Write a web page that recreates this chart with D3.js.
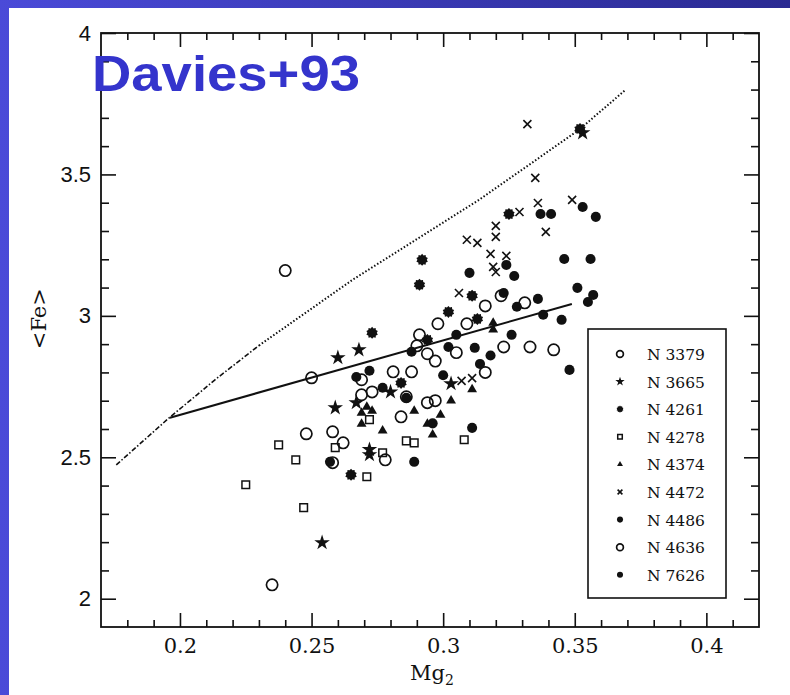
<!DOCTYPE html>
<html>
<head>
<meta charset="utf-8">
<script src="https://cdn.jsdelivr.net/npm/d3@7"></script>
<style>
  html, body { margin: 0; padding: 0; }
  body { width: 790px; height: 695px; overflow: hidden; }
  svg { display: block; }
</style>
</head>
<body>
<svg id="chart" width="790" height="695"></svg>
<script>
// ---- data (Mg2, <Fe>) per galaxy ----
const n3379 = [[0.250,2.781],[0.281,2.802],[0.288,2.802],[0.269,2.774],[0.273,2.731],[0.269,2.721],[0.286,2.714],[0.294,2.693],[0.284,2.643],[0.248,2.583],[0.258,2.590],[0.262,2.551],[0.278,2.491],[0.258,2.481],[0.235,2.049]];
const n3665 = [[0.268,2.880],[0.260,2.852],[0.280,2.731],[0.267,2.693],[0.259,2.675],[0.272,2.527],[0.272,2.509],[0.254,2.198],[0.353,3.647],[0.303,2.760]];
const n4261 = [[0.291,3.110],[0.273,2.940],[0.284,2.763],[0.265,2.438],[0.352,3.661],[0.325,3.360],[0.292,3.198],[0.311,3.071],[0.302,3.014],[0.313,2.989],[0.294,2.915]];
const n4278 = [[0.272,2.633],[0.2375,2.544],[0.259,2.534],[0.286,2.558],[0.289,2.551],[0.277,2.516],[0.244,2.491],[0.271,2.431],[0.225,2.403],[0.247,2.322],[0.308,2.562]];
const n4374 = [[0.271,2.678],[0.273,2.664],[0.269,2.657],[0.289,2.664],[0.269,2.618],[0.294,2.618],[0.277,2.594],[0.319,2.975],[0.319,2.951],[0.303,2.700],[0.299,2.650],[0.311,2.740],[0.296,2.580]];
const n4472 = [[0.332,3.678],[0.335,3.488],[0.336,3.399],[0.349,3.410],[0.329,3.367],[0.320,3.318],[0.320,3.279],[0.339,3.297],[0.309,3.269],[0.313,3.258],[0.318,3.219],[0.324,3.212],[0.319,3.173],[0.320,3.155],[0.306,3.081],[0.307,2.770],[0.311,2.780]];
const n4486 = [[0.353,3.385],[0.358,3.350],[0.337,3.360],[0.341,3.360],[0.346,3.201],[0.356,3.201],[0.351,3.099],[0.357,3.074],[0.355,3.049],[0.336,3.060],[0.338,3.004],[0.345,2.986],[0.348,2.809],[0.318,2.860]];
const n4636 = [[0.240,3.160],[0.291,2.933],[0.290,2.894],[0.294,2.866],[0.322,3.071],[0.331,3.046],[0.316,3.035],[0.298,2.972],[0.309,2.972],[0.323,2.890],[0.333,2.890],[0.342,2.880],[0.305,2.870],[0.297,2.840],[0.316,2.800],[0.297,2.700]];
const n7626 = [[0.288,2.873],[0.272,2.806],[0.267,2.784],[0.277,2.746],[0.286,2.710],[0.257,2.484],[0.289,2.484],[0.324,3.180],[0.327,3.141],[0.310,3.152],[0.323,3.081],[0.328,3.032],[0.326,2.933],[0.305,2.933],[0.312,2.887],[0.302,2.890],[0.311,2.604],[0.300,2.790],[0.314,2.830],[0.296,2.620]];

// model tracks
const upperTrackA = [[0.1758,2.473],[0.1951,2.633],[0.2133,2.774],[0.2300,2.895]];
const upperTrackB = [[0.2300,2.895],[0.2655,3.127],[0.3136,3.410],[0.3515,3.657],[0.3693,3.799]];
const lowerTrack = [[0.1962,2.640],[0.3489,3.042]];

const legendNames = ["N 3379","N 3665","N 4261","N 4278","N 4374","N 4472","N 4486","N 4636","N 7626"];
const legendTypes = ["ring","star","burst","square","tri","times","dot","ring","dot"];
const seriesList = [n3379,n3665,n4261,n4278,n4374,n4472,n4486,n4636,n7626];

const xTicksMajor = [0.2,0.25,0.3,0.35,0.4];
const yTicksMajor = [2,2.5,3,3.5,4];

// ---- layout ----
const svg = d3.select("#chart");
const W = 790, H = 695;

const defs = svg.append("defs");
const grad = defs.append("linearGradient").attr("id","bg").attr("x1","0").attr("x2","1").attr("y1","0").attr("y2","0");
grad.append("stop").attr("offset","0").attr("stop-color","#4a4ad8");
grad.append("stop").attr("offset","1").attr("stop-color","#2a2a92");
svg.append("rect").attr("width",W).attr("height",H).attr("fill","url(#bg)");
svg.append("rect").attr("x",9).attr("y",8).attr("width",W-9).attr("height",H-8).attr("fill","#fff");

const x = d3.scaleLinear().domain([0.17,0.42]).range([101,759]);
const y = d3.scaleLinear().domain([1.9,4.0]).range([627,33]);

const serif = "'DejaVu Serif', 'Liberation Serif', serif";
const sans = "'Liberation Sans', Arial, sans-serif";
const r2 = v => Math.round(v*100)/100;
const xMinor = d3.range(18,42).map(v => v/100).filter(v => !xTicksMajor.includes(r2(v)));
const yMinor = d3.range(20,40).map(v => v/10).filter(v => !yTicksMajor.includes(v));

function styleAxis(g) {
  g.select(".domain").remove();
  g.selectAll("line").attr("stroke","#111").attr("stroke-width",1.6);
  g.selectAll("text").attr("font-family",serif).attr("font-size",21).attr("fill","#111");
}

// bottom
svg.append("g").attr("transform",`translate(0,${y(1.9)})`)
  .call(d3.axisBottom(x).tickValues(xTicksMajor).tickSize(-14).tickSizeOuter(0).tickPadding(11).tickFormat(d => String(d)))
  .call(styleAxis);
svg.append("g").attr("transform",`translate(0,${y(1.9)})`)
  .call(d3.axisBottom(x).tickValues(xMinor).tickSize(-7).tickSizeOuter(0).tickFormat(""))
  .call(styleAxis);
// top
svg.append("g").attr("transform",`translate(0,${y(4)})`)
  .call(d3.axisTop(x).tickValues(xTicksMajor).tickSize(-14).tickSizeOuter(0).tickFormat(""))
  .call(styleAxis);
svg.append("g").attr("transform",`translate(0,${y(4)})`)
  .call(d3.axisTop(x).tickValues(xMinor).tickSize(-7).tickSizeOuter(0).tickFormat(""))
  .call(styleAxis);
// left
svg.append("g").attr("transform",`translate(${x(0.17)},0)`)
  .call(d3.axisLeft(y).tickValues(yTicksMajor).tickSize(-15).tickSizeOuter(0).tickPadding(10).tickFormat(d => String(d)))
  .call(styleAxis)
  .call(g => g.selectAll("text").attr("font-family",sans).attr("font-size",22));
svg.append("g").attr("transform",`translate(${x(0.17)},0)`)
  .call(d3.axisLeft(y).tickValues(yMinor).tickSize(-8).tickSizeOuter(0).tickFormat(""))
  .call(styleAxis);
// right
svg.append("g").attr("transform",`translate(${x(0.42)},0)`)
  .call(d3.axisRight(y).tickValues(yTicksMajor).tickSize(-15).tickSizeOuter(0).tickFormat(""))
  .call(styleAxis);
svg.append("g").attr("transform",`translate(${x(0.42)},0)`)
  .call(d3.axisRight(y).tickValues(yMinor).tickSize(-8).tickSizeOuter(0).tickFormat(""))
  .call(styleAxis);

// frame
svg.append("rect")
  .attr("x",x(0.17)).attr("y",y(4))
  .attr("width",x(0.42)-x(0.17)).attr("height",y(1.9)-y(4))
  .attr("fill","none").attr("stroke","#111").attr("stroke-width",1.8);

// axis titles
const xt = svg.append("text").attr("x",432).attr("y",680)
  .attr("text-anchor","middle").attr("font-family",serif).attr("font-size",21).attr("fill","#111");
xt.append("tspan").text("Mg");
xt.append("tspan").attr("font-size",14).attr("dy",5).text("2");

svg.append("text").attr("transform",`translate(46,${y(2.99)}) rotate(-90)`)
  .attr("text-anchor","middle").attr("font-family",serif).attr("font-size",21).attr("fill","#111")
  .text("<Fe>");

// model tracks
const line = d3.line().x(d => x(d[0])).y(d => y(d[1]));
svg.append("path").datum(upperTrackA).attr("d",line)
  .attr("fill","none").attr("stroke","#111").attr("stroke-width",1.6).attr("stroke-dasharray","5,2,1.5,2");
svg.append("path").datum(upperTrackB).attr("d",line)
  .attr("fill","none").attr("stroke","#111").attr("stroke-width",2).attr("stroke-dasharray","1.5,2");
svg.append("path").datum(lowerTrack).attr("d",line)
  .attr("fill","none").attr("stroke","#111").attr("stroke-width",2);

// ---- markers ----
function burstPath(r) {
  const pts = [];
  for (let i = 0; i < 20; i++) {
    const a = Math.PI * i / 10;
    const rr = i % 2 ? r * 0.78 : r;
    pts.push([Math.sin(a) * rr, -Math.cos(a) * rr]);
  }
  return "M" + pts.map(p => p.join(",")).join("L") + "Z";
}
function timesPath(r) {
  return `M${-r},${-r}L${r},${r}M${-r},${r}L${r},${-r}`;
}
function marker(sel, type, k) {
  if (type === "ring") {
    sel.append("path").attr("d", d3.symbol(d3.symbolCircle, 100 * k * k)())
      .attr("fill","#fff").attr("fill-opacity",0).attr("stroke","#111").attr("stroke-width",1.7);
  } else if (type === "star") {
    sel.append("path").attr("d", d3.symbol(d3.symbolStar, 75 * k * k)()).attr("fill","#111");
  } else if (type === "burst") {
    sel.append("path").attr("d", burstPath(6 * k)).attr("fill","#111");
  } else if (type === "square") {
    sel.append("path").attr("d", d3.symbol(d3.symbolSquare, 58 * k * k)())
      .attr("fill","none").attr("stroke","#111").attr("stroke-width",1.5);
  } else if (type === "tri") {
    sel.append("path").attr("d", d3.symbol(d3.symbolTriangle, 42 * k * k)()).attr("fill","#111");
  } else if (type === "times") {
    sel.append("path").attr("d", timesPath(4 * k)).attr("stroke","#111").attr("stroke-width",1.6);
  } else {
    sel.append("path").attr("d", d3.symbol(d3.symbolCircle, 80 * k * k)()).attr("fill","#111");
  }
}

const marks = svg.append("g");
seriesList.forEach((data, i) => {
  marks.selectAll(null).data(data).enter().append("g")
    .attr("transform", d => `translate(${x(d[0])},${y(d[1])})`)
    .each(function() { marker(d3.select(this), legendTypes[i], 1); });
});

// ---- legend ----
const lg = svg.append("g");
lg.append("rect").attr("x",588).attr("y",329).attr("width",138).attr("height",269)
  .attr("fill","#fff").attr("stroke","#111").attr("stroke-width",1.6);
legendNames.forEach((name, i) => {
  const row = lg.append("g").attr("transform",`translate(0,${354 + i * 27.6})`);
  const m = row.append("g").attr("transform","translate(620,0)");
  marker(m, legendTypes[i], 0.6);
  row.append("text").attr("x",647).attr("y",6).attr("font-family",serif).attr("font-size",15.5)
    .attr("fill","#111").text(name);
});

// ---- title ----
svg.append("text").attr("x",92).attr("y",91)
  .attr("font-family",sans).attr("font-weight","bold")
  .attr("font-size",50).attr("fill","#3434cc")
  .attr("textLength",268).attr("lengthAdjust","spacingAndGlyphs")
  .text("Davies+93");
</script>
</body>
</html>
